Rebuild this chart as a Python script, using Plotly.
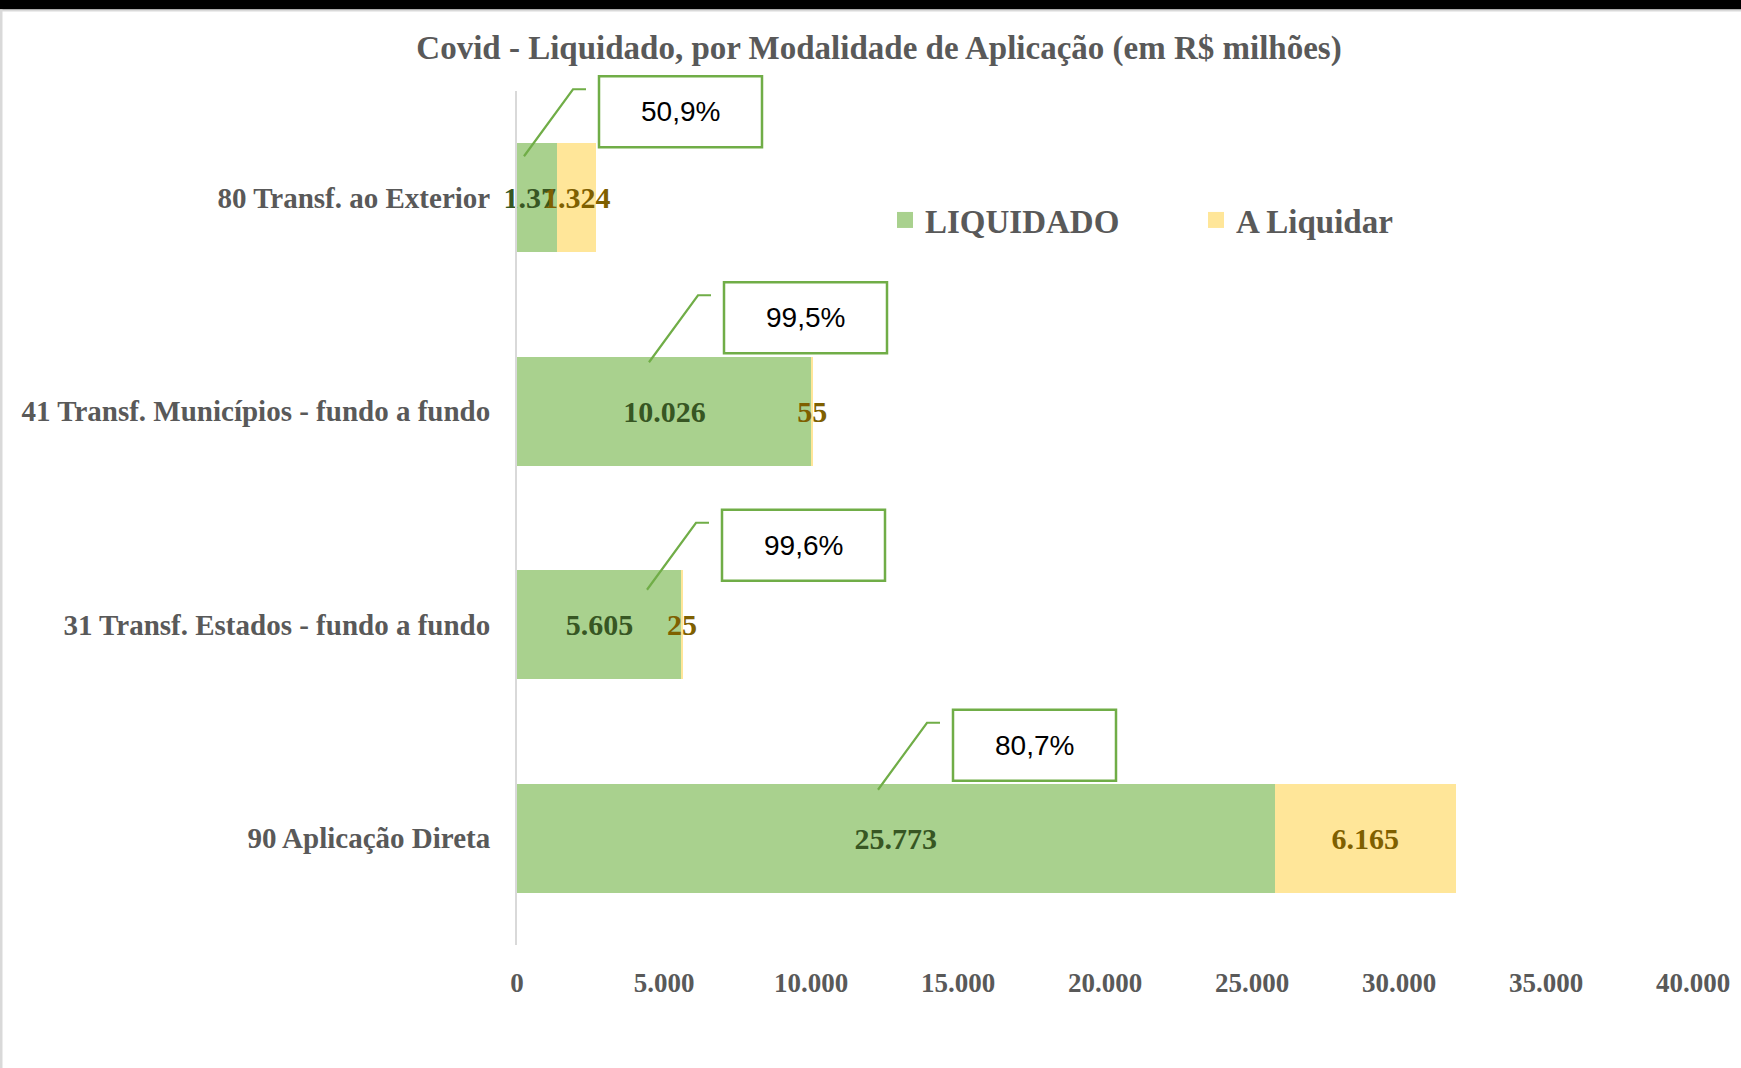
import plotly.graph_objects as go

# ---------------- data ----------------
categories = ["80 Transf. ao Exterior",
              "41 Transf. Municípios - fundo a fundo",
              "31 Transf. Estados - fundo a fundo",
              "90 Aplicação Direta"]
liquidado = [1372, 10026, 5605, 25773]
a_liquidar = [1324, 55, 25, 6165]
series_names = ["LIQUIDADO", "A Liquidar"]
x_ticks = [0, 5000, 10000, 15000, 20000, 25000, 30000, 35000, 40000]

# ---------------- style ----------------
W, H = 1741, 1068
ML, MR, MT, MB = 517, 48, 91, 123
PW, PH = W - ML - MR, H - MT - MB
GREEN, YELLOW = "#A9D18E", "#FFE699"
GREEN_TXT, YELLOW_TXT = "#375623", "#7F6000"
GRAY_TXT = "#595959"
CALLOUT_GREEN = "#70AD47"
SERIF = "Liberation Serif"
# callout box (left, top) offsets in px from (x=0, category centre), "up" positive
callout_pos = [(82, 121.5), (207, 129), (205, 115), (436, 128.5)]
BOX_W, BOX_H = 163, 71
N = len(categories)


def px2paper_x(px):
    return (px - ML) / PW


def px2paper_y(py):
    return (H - MB - py) / PH


fig = go.Figure()
for vals, name, col, tcol in [(liquidado, series_names[0], GREEN, GREEN_TXT),
                              (a_liquidar, series_names[1], YELLOW, YELLOW_TXT)]:
    fig.add_trace(go.Bar(
        y=categories, x=vals, name=name, orientation="h", showlegend=False,
        marker=dict(color=col, line=dict(width=0)),
        texttemplate="%{x:,.0f}", textposition="inside", insidetextanchor="middle",
        constraintext="none", textangle=0, cliponaxis=False,
        textfont=dict(family=SERIF, size=30, color=tcol, weight="bold"),
    ))
    # legend entry with a larger square symbol
    fig.add_trace(go.Scatter(
        x=[None], y=[None], mode="markers", name=name, showlegend=True,
        marker=dict(symbol="square", size=16, color=col),
    ))

shapes = []
annotations = []
for i, (cat, l, a) in enumerate(zip(categories, liquidado, a_liquidar)):
    pct = l / (l + a) * 100
    txt = f"{pct:.1f}".replace(".", ",") + "%"
    left, top = callout_pos[i]
    yc = 1 - (i + 0.5) / N  # category centre in paper units (fixed range)
    shapes.append(dict(
        type="rect", xref="paper", yref="paper", xsizemode="pixel", ysizemode="pixel",
        xanchor=0, yanchor=yc, x0=left, x1=left + BOX_W, y0=top, y1=top - BOX_H,
        line=dict(color=CALLOUT_GREEN, width=2.5), fillcolor="white", layer="above",
    ))
    ex, ey = left - 13, top - 13
    kx, ky = left - 26, top - 13
    sx, sy = left - 75, top - 80
    shapes.append(dict(
        type="path", xref="paper", yref="paper", xsizemode="pixel", ysizemode="pixel",
        xanchor=0, yanchor=yc,
        path=f"M{sx},{sy} L{kx},{ky} L{ex},{ey}",
        line=dict(color=CALLOUT_GREEN, width=2.2), layer="above",
    ))
    annotations.append(dict(
        x=0, y=cat, xref="x", yref="y", text=txt, showarrow=False,
        xshift=left + BOX_W / 2, yshift=top - BOX_H / 2,
        xanchor="center", yanchor="middle",
        font=dict(family="Liberation Sans", size=28, color="black"),
    ))

# frame decorations (black band on top, light gray border)
shapes.append(dict(type="rect", xref="paper", yref="paper",
                   x0=px2paper_x(0), x1=px2paper_x(W), y0=px2paper_y(9.5), y1=px2paper_y(0),
                   fillcolor="black", line=dict(width=0), layer="above"))
shapes.append(dict(type="rect", xref="paper", yref="paper",
                   x0=px2paper_x(0), x1=px2paper_x(W), y0=px2paper_y(11.5), y1=px2paper_y(9.5),
                   fillcolor="#D9D9D9", line=dict(width=0), layer="above"))
shapes.append(dict(type="rect", xref="paper", yref="paper",
                   x0=px2paper_x(0), x1=px2paper_x(2.5), y0=px2paper_y(H), y1=px2paper_y(9.5),
                   fillcolor="#D9D9D9", line=dict(width=0), layer="above"))

fig.update_layout(
    width=W, height=H,
    margin=dict(l=ML, r=MR, t=MT, b=MB, pad=0),
    paper_bgcolor="white", plot_bgcolor="white",
    barmode="stack", bargap=0.49,
    separators=",.",
    title=dict(text="Covid - Liquidado, por Modalidade de Aplicação (em R$ milhões)",
               x=px2paper_x(879), xref="paper", xanchor="center",
               y=1 - 47 / H, yref="container", yanchor="middle",
               font=dict(family=SERIF, size=33, color=GRAY_TXT, weight="bold")),
    legend=dict(orientation="h", x=px2paper_x(885), y=px2paper_y(220),
                xanchor="left", yanchor="middle", bgcolor="rgba(0,0,0,0)",
                entrywidth=266, entrywidthmode="pixels", itemwidth=30,
                font=dict(family=SERIF, size=33, color=GRAY_TXT, weight="bold"),
                traceorder="normal"),
    xaxis=dict(range=[0, 40000], tickvals=x_ticks, tickformat=",.0f",
               showgrid=False, zeroline=False, showline=False, ticks="",
               ticklabelstandoff=19,
               tickfont=dict(family=SERIF, size=27, color=GRAY_TXT, weight="bold")),
    yaxis=dict(categoryorder="array", categoryarray=categories,
               range=[N - 0.5, -0.5], autorange=False,
               showgrid=False, zeroline=False, showline=True, linecolor="#D9D9D9",
               linewidth=2, ticks="", ticklabelstandoff=19,
               tickfont=dict(family=SERIF, size=29, color=GRAY_TXT, weight="bold")),
    shapes=shapes, annotations=annotations,
    showlegend=True,
)

fig.write_html("out.html", config={"displayModeBar": False},
               post_script="document.body.style.margin='0';")
